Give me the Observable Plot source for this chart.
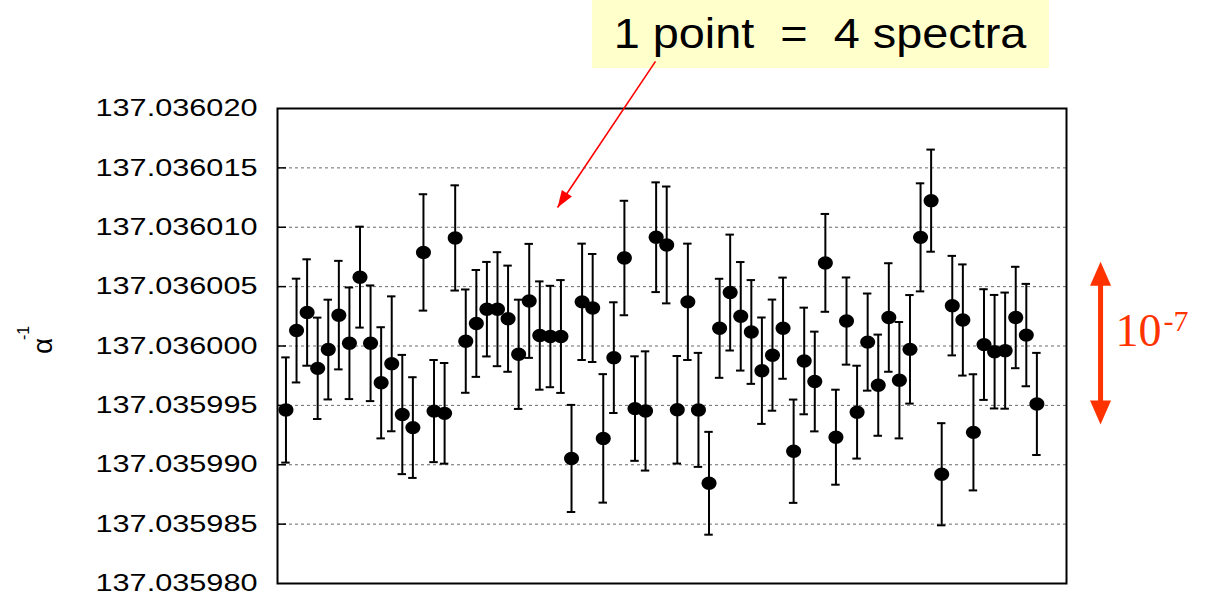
<!DOCTYPE html>
<html><head><meta charset="utf-8">
<script src="https://cdn.jsdelivr.net/npm/d3@7"></script>
<script src="https://cdn.jsdelivr.net/npm/@observablehq/plot@0.6"></script>
<style>
body{margin:0;background:#fff}
#wrap{position:relative;width:1209px;height:595px;overflow:hidden}
#note{position:absolute;left:592px;top:0;width:457px;height:68px;background:#ffffcc;font:42px "Liberation Sans",Arial,sans-serif;line-height:68px;text-align:center;white-space:pre;color:#000}
#note span{display:inline-block;transform:scaleX(1.115);transform-origin:center}
#chart{position:absolute;left:0;top:0}
</style>
</head><body>
<div id="wrap"><div id="note"><span>1 point  =  4 spectra</span></div><div id="chart"></div></div>
<script>
// α^-1 values, one per point (4 spectra each)
const alphaValues = [
137.03599461,137.03600130,137.03600282,137.03599812,137.03599970,137.03600260,137.03600023,137.03600580,
137.03600023,137.03599690,137.03599850,137.03599423,137.03599313,137.03600788,137.03599452,137.03599433,
137.03600910,137.03600041,137.03600190,137.03600310,137.03600310,137.03600230,137.03599930,137.03600380,
137.03600088,137.03600080,137.03600080,137.03599053,137.03600372,137.03600320,137.03599222,137.03599902,
137.03600741,137.03599473,137.03599453,137.03600916,137.03600851,137.03599463,137.03600372,137.03599462,
137.03598844,137.03600149,137.03600450,137.03600250,137.03600118,137.03599792,137.03599923,137.03600150,
137.03599114,137.03599874,137.03599701,137.03600700,137.03599232,137.03600210,137.03599443,137.03600033,
137.03599670,137.03600240,137.03599712,137.03599972,137.03600915,137.03601224,137.03598920,137.03600340,
137.03600219,137.03599273,137.03600012,137.03599952,137.03599961,137.03600240,137.03600092,137.03599512
];
// error bar half-lengths, in units of 1e-6
const errValues = [
4.43,4.37,4.48,4.27,4.20,4.57,4.70,4.25,4.87,4.68,5.68,5.02,4.24,4.90,4.30,4.24,
4.43,4.35,4.50,3.98,4.80,4.47,4.60,4.80,4.56,4.27,4.75,4.51,4.90,4.55,5.41,4.66,
4.82,4.40,5.02,4.62,4.92,4.53,4.90,4.80,4.33,4.17,4.88,4.57,4.37,4.48,4.68,4.26,
4.35,4.49,4.20,4.12,4.00,3.67,3.91,4.09,4.26,4.57,4.90,4.57,4.55,4.30,4.30,4.19,
4.68,4.89,4.66,4.78,4.89,4.27,4.31,4.30
];
const errUnit = 1e-6;
const yTickLabels = ["137.035980","137.035985","137.035990","137.035995","137.036000","137.036005","137.036010","137.036015","137.036020"];
const yTickValues = yTickLabels.map(Number);
const xDomain = [0.2, 74.8];
const yDomain = [137.03598, 137.03602];
const yLabel = "α";
const yLabelSup = "-1";
const yLabelAt = 137.036;
// annotations (data coordinates)
const pointer = [{x1: 35.94, y1: 137.03602397, x2: 26.68, y2: 137.03601166}];
const scaleBar = [{x: 78.02, top: 137.0360071, bottom: 137.0359934, mid: 137.03600025}];
const scaleText = "10";
const scaleSup = "-7";

const data = alphaValues.map((v, i) => ({
  i: i + 1, v,
  lo: v - errValues[i] * errUnit,
  hi: v + errValues[i] * errUnit
}));
const gridTicks = yTickValues.slice(1, -1);
const capHalf = 0.4;
const head = (len, half) => ({draw(ctx) { ctx.moveTo(0, 0); ctx.lineTo(-half, len); ctx.lineTo(half, len); ctx.closePath(); }});
const ellipse = (rx, ry) => ({draw(ctx) {
  const k = 0.5523;
  ctx.moveTo(rx, 0);
  ctx.bezierCurveTo(rx, k * ry, k * rx, ry, 0, ry);
  ctx.bezierCurveTo(-k * rx, ry, -rx, k * ry, -rx, 0);
  ctx.bezierCurveTo(-rx, -k * ry, -k * rx, -ry, 0, -ry);
  ctx.bezierCurveTo(k * rx, -ry, rx, -k * ry, rx, 0);
  ctx.closePath();
}});
const orange = "#ff3300";

const chart = Plot.plot({
  width: 1209, height: 595,
  marginLeft: 277, marginRight: 143, marginTop: 108, marginBottom: 12,
  style: {fontFamily: "'Liberation Sans', Arial, sans-serif", background: "transparent", overflow: "visible"},
  x: {domain: xDomain, axis: null},
  y: {domain: yDomain, axis: null},
  marks: [
    Plot.gridY(gridTicks, {stroke: "#444", strokeOpacity: 1, strokeWidth: 0.8, strokeDasharray: "3,3"}),
    Plot.tickY(gridTicks, {stroke: "black", strokeWidth: 1.5, insetRight: 780}),
    Plot.ruleX(data, {x: "i", y1: "lo", y2: "hi", stroke: "black", strokeWidth: 2}),
    Plot.ruleY(data, {y: "hi", x1: d => d.i - capHalf, x2: d => d.i + capHalf, stroke: "black", strokeWidth: 2}),
    Plot.ruleY(data, {y: "lo", x1: d => d.i - capHalf, x2: d => d.i + capHalf, stroke: "black", strokeWidth: 2}),
    Plot.dot(data, {x: "i", y: "v", symbol: ellipse(7.5, 6.7), fill: "black", stroke: "none"}),
    Plot.frame({stroke: "black", strokeWidth: 2}),
    Plot.axisY(yTickValues, {tickSize: 0, tickPadding: 20, fontSize: 24, fill: "black", tickFormat: (d, i) => yTickLabels[i], label: null}),
    Plot.text([yLabel], {frameAnchor: "left", y: () => yLabelAt, text: d => d, rotate: -90, fontSize: 28, dx: -234, dy: 8, fill: "black"}),
    Plot.text([yLabelSup], {frameAnchor: "left", y: () => yLabelAt, text: d => d, rotate: -90, fontSize: 16, dx: -254, dy: -6, fill: "black"}),
    // pointer arrow
    Plot.link(pointer, {x1: "x1", y1: "y1", x2: "x2", y2: "y2", stroke: "red", strokeWidth: 1.6}),
    Plot.dot(pointer, {x: "x2", y: "y2", symbol: head(17, 6), rotate: 213.3, fill: "red", stroke: "none"}),
    // 10^-7 scale bar
    Plot.ruleX(scaleBar, {x: "x", y1: "top", y2: "bottom", stroke: orange, strokeWidth: 5, insetTop: 12, insetBottom: 12}),
    Plot.dot(scaleBar, {x: "x", y: "top", symbol: head(24, 10.5), rotate: 0, fill: orange, stroke: "none"}),
    Plot.dot(scaleBar, {x: "x", y: "bottom", symbol: head(24, 10.5), rotate: 180, fill: orange, stroke: "none"}),
    Plot.text(scaleBar, {x: "x", y: "mid", text: () => scaleText, textAnchor: "start", lineAnchor: "bottom", dx: 15, dy: 3, fontSize: 46, fontFamily: "'Liberation Serif', 'Times New Roman', serif", fill: orange}),
    Plot.text(scaleBar, {x: "x", y: "mid", text: () => scaleSup, textAnchor: "start", lineAnchor: "bottom", dx: 63, dy: -12, fontSize: 30, fontFamily: "'Liberation Serif', 'Times New Roman', serif", fill: orange})
  ]
});
document.getElementById("chart").appendChild(chart);
chart.querySelectorAll('[aria-label="y-axis tick label"] text').forEach(t => {
  t.setAttribute("textLength", 162);
  t.setAttribute("lengthAdjust", "spacingAndGlyphs");
});
</script>
</body></html>
